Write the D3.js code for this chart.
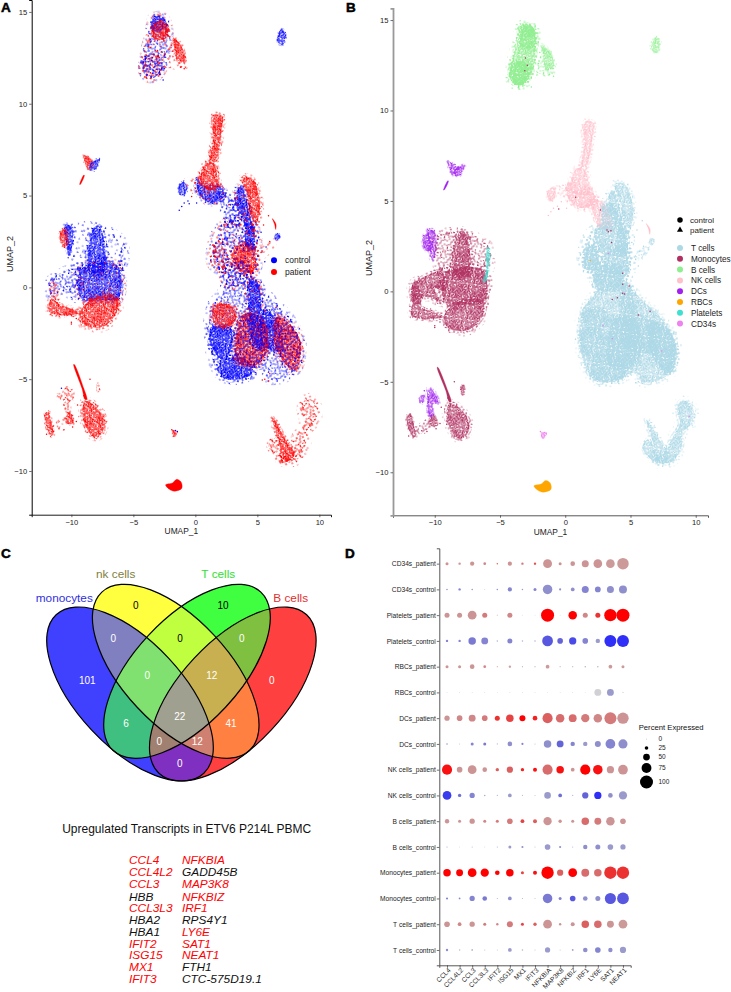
<!DOCTYPE html>
<html><head><meta charset="utf-8">
<script src="https://cdn.jsdelivr.net/npm/d3@7"></script>
<style>
html,body{margin:0;padding:0;background:#fff}
svg{display:block;font-family:"Liberation Sans",Arial,sans-serif}
</style></head><body><div id="c"></div>
<script>
// ---------- UMAP cell clouds: outlines, in UMAP units ----------
const bUpper=[[-3.4,14.7],[-2.6,14.7],[-2.2,14.1],[-2.3,13.2],[-2.6,12],[-3.4,11.4],[-4.1,11.6],[-4.15,12.4],[-3.6,14]];
const bTop=[[-3.4,14.7],[-2.6,14.7],[-2.3,14.2],[-3.4,14]];
const bTopRed=[[-3.5,14.2],[-2.7,14.5],[-2.2,14],[-2.5,13.5],[-3.4,13.6]];
const bBottom=[[-4.15,12.5],[-3.2,12.7],[-2.7,12],[-3.4,11.4],[-4.1,11.6]];
const bRed=[[-1.8,13.6],[-1.4,13.4],[-.95,12.9],[-.9,12.3],[-1.5,12.4],[-1.7,13.1]];
const bLink=[[-2.2,13],[-1.8,13],[-1.5,12.4],[-.8,12],[-2.2,12.1]];
const bSmall=[[6.6,13.6],[6.9,14.05],[7.2,13.9],[7.2,13.4],[7,13.2],[6.6,13.4]];
const dcStarRed=[[-9,7.2],[-8.2,6.75],[-8.6,6.4],[-8.9,6.8]];
const dcStarBlue=[[-8.5,6.7],[-7.7,7],[-8.1,6.4],[-8.5,6.4]];
const dcTail=[[-9.33,5.6],[-9.28,5.6],[-8.95,6.1],[-9,6.12]];
const nkColumn=[[1.55,9.4],[2.2,9.3],[2.1,8.6],[1.9,7.5],[1.6,6.9],[1.2,6.9],[1.4,7.8]];
const nkBlob=[[.9,6.8],[1.5,6.75],[1.8,5.9],[1.9,5.5],[1,5.3],[.4,5.8]];
const nkBlue=[[.2,5.9],[.6,5.6],[2,5.5],[2.4,5],[1.2,4.6],[.2,5.2]];
const nkSmall=[[-1.3,5.6],[-.9,5.75],[-.7,5.3],[-1,5],[-1.3,5.1]];
const nkArc=[[-.8,5.85],[-.1,5.8],[.2,5.3],[-.2,5.2],[-.6,5.5]];
const nkBand=[[1.9,5.2],[3,4.8],[3.6,3.4],[2.7,3.5],[2.2,4.2]];
const tBand=[[2.9,4.8],[3.4,4.9],[4.2,4],[4.6,2.2],[3,2],[2.2,3.4],[2.7,3.6]];
const tRedColumn=[[3.8,5.95],[4.6,5.9],[5.1,5],[5.2,4.1],[4.9,3.5],[4.4,4],[4.2,5]];
const tBlueColumn=[[3.4,5.4],[3.8,5.4],[4.4,3.9],[4.75,3],[4.7,2],[4.1,2.2],[4,3.4],[3.5,4.2]];
const tConnect=[[2.2,3.4],[4.6,3.4],[5,2],[4.8,.9],[2.4,.9],[1.4,1.2],[1.4,2.4]];
const tBlobA=[[1.5,2.2],[2.1,2.6],[2.5,2.2],[2.4,1.3],[1.6,1.2]];
const tBlobB=[[2.9,1.7],[3.8,2.4],[4.7,2.1],[4.7,.9],[3.5,.9]];
const tNeck=[[2.3,1.3],[4.1,1.3],[4.4,.4],[2.5,0]];
const tArc=[[6.2,3.75],[6.5,3.45],[6.48,3.15],[6.38,3.45]];
const tDot=[[6.4,2.7],[6.6,2.95],[6.85,2.8],[6.6,2.55]];
const tTail=[[6.4,2.6],[6.5,2.5],[5.4,1.6],[5.1,1.8]];
const tMass=[[2.34,1.18],[2.47,.07],[1.32,-1.03],[1.15,-3.06],[1.96,-4.7],[3.6,-5],[5.4,-4.5],[5.9,-5],[7.7,-4.7],[8.45,-3.06],[7.7,-1.77],[5.9,-.48],[4.63,.44],[4.12,1.18]];
const tRedLeft=[[1.5,-1],[3,-1],[3.3,-1.7],[2.4,-2.2],[1.5,-1.9]];
const tBlueLeft=[[1.2,-2.2],[2.8,-2.2],[3,-3],[2.3,-4],[1.3,-3.2]];
const tBlueBottom=[[2,-4.1],[3.2,-3.8],[4.6,-4.2],[4.4,-4.8],[2.4,-5],[2,-4.7]];
const tRedCenter=[[3.8,-1.5],[5,-1.5],[5.8,-2.3],[5.6,-3.8],[4.6,-4.3],[3.3,-4],[3.2,-3.2]];
const tBlueCol=[[4.3,.4],[4.9,.4],[5.4,-2],[5.3,-3.4],[4.6,-3],[4.3,-1]];
const tBlueRight=[[5.5,-1.2],[6.6,-1.8],[7,-3.4],[5.8,-3.3]];
const tRedRight=[[6.6,-1.6],[7.6,-2],[8.5,-3],[8.1,-4.5],[7.3,-4.2],[6.4,-3]];
const tArcBand=[[8.7,-6.2],[9.2,-6.05],[9.8,-6.5],[9.7,-7.3],[9,-7.8],[8.9,-8.6],[8.2,-9.4],[7.2,-9.5],[6.8,-9.3],[7.6,-8.9],[8.2,-8.1],[8.8,-7.3],[8.6,-6.7]];
const tDiagonal=[[6.2,-7.1],[6.5,-7.3],[7.2,-8.2],[8,-9.1],[7.3,-9.5],[6.7,-8.3]];
const tLowBlob=[[5.9,-8.6],[6.3,-8.2],[7,-9],[7.1,-9.5],[6.3,-9.1]];
const dcLobeRed=[[-10.9,3],[-10.5,3.2],[-10.25,2.5],[-10.5,2.2],[-10.8,2.4]];
const dcLobeBlue=[[-10.5,3.4],[-10,3.3],[-9.9,2.4],[-10.2,1.7],[-10.4,2.4]];
const monoOpen=[[-10,3.1],[-8,3.3],[-7.5,3.2],[-5.9,2.5],[-5.9,1.2],[-6.3,1],[-9.5,1.2],[-10,2.2]];
const monoColumn=[[-8.1,3.3],[-7.7,3.3],[-7.4,.9],[-8.6,.9]];
const monoBlueRight=[[-9.2,1],[-6.3,1.2],[-6.2,-.6],[-7.5,-.7],[-9.2,-.6]];
const monoBlueLeft=[[-11.7,.4],[-11.2,.65],[-9.5,1.1],[-9.3,.1],[-10.1,.2],[-9.5,-.6],[-10.5,-.3],[-11.7,-.4]];
const monoRedRight=[[-9.3,-1.4],[-8.5,-.7],[-7,-.4],[-6.3,-.6],[-6.3,-1.3],[-7.2,-2.05],[-8,-2.2],[-9,-2]];
const monoRedLeft=[[-11.8,-1.3],[-11.6,-.6],[-11,-.9],[-10.3,-1.1],[-9.3,-1.4],[-10,-1.5],[-11.2,-1.5]];
const monoRedSpur=[[-11.6,.3],[-11.2,.2],[-11.1,-.7],[-11.6,-.6]];
const monoThin=[[-9.82,-4.2],[-9.76,-4.2],[-9,-5.5],[-8.75,-6.1],[-8.9,-6.1],[-9.15,-5.5]];
const monoLow=[[-8.9,-6.2],[-8.2,-6.4],[-7.5,-7],[-7.35,-7.6],[-7.8,-8.1],[-8.3,-8.1],[-8.8,-7.6],[-9.1,-7]];
const monoStrip=[[-12.1,-6.85],[-11.85,-6.8],[-11.6,-7.4],[-11.45,-8],[-11.6,-8.1],[-12.1,-7.4]];
const monoPatch=[[-10.3,-6.85],[-10,-6.9],[-9.8,-7.4],[-10.4,-7.4]];
const monoSpeck=[[-7.95,-5.2],[-7.75,-5.2],[-7.75,-5.7],[-7.95,-5.7]];
const monoLink=[[-11.4,-7.6],[-10.4,-7.1],[-10.3,-7.4],[-11.2,-7.9]];
const dcLowA=[[-11.1,-5.8],[-10.8,-5.75],[-10.95,-6.2],[-11.2,-6.1]];
const dcLowB=[[-10.5,-5.4],[-10.25,-5.4],[-9.7,-6.2],[-10.1,-6.1],[-10.2,-6.9],[-10.4,-6.9]];
const rbcBlob=[[-2.4,-10.75],[-1.85,-10.65],[-1.5,-10.45],[-1.15,-10.6],[-1.1,-10.95],[-1.7,-11.1],[-2.1,-11]];
const cd34Blob=[[-1.85,-7.8],[-1.45,-7.85],[-1.6,-8.1],[-1.75,-8.15]];
const plateletStrip=[[-5.98,2.4],[-5.85,2.4],[-5.88,1.2],[-6.05,.6],[-6.3,.5],[-6.05,1.2]];

// outline, cell type, condition, stipple density: drawn in this order
const clouds=[
 [bUpper,'B cells','control','mid'],[bUpper,'B cells','patient','sparse'],[bTop,'B cells','control','dense'],[bTopRed,'B cells','patient','dense'],
 [bBottom,'B cells','patient','mid'],[bBottom,'B cells','control','mid'],[bRed,'B cells','patient','dense'],[bLink,'B cells','patient','sparse'],[bSmall,'B cells','control','dense'],
 [dcStarRed,'DCs','patient','dense'],[dcStarBlue,'DCs','control','dense'],[dcTail,'DCs','patient','solid'],
 [nkColumn,'NK cells','patient','dense'],[nkBlue,'NK cells','control','dense'],[nkBlue,'NK cells','patient','sparse'],[nkBlob,'NK cells','patient','dense'],[nkSmall,'NK cells','control','dense'],[nkArc,'NK cells','patient','sparse'],[nkBand,'NK cells','control','mid'],
 [tBand,'T cells','control','mid'],[tRedColumn,'T cells','patient','dense'],[tBlueColumn,'T cells','control','dense'],[tBlueColumn,'T cells','patient','sparse'],
 [tConnect,'T cells','control','sparse'],[tConnect,'T cells','patient','sparse'],
 [tBlobA,'T cells','control','mid'],[tBlobA,'T cells','patient','mid'],[tNeck,'T cells','control','mid'],[tNeck,'T cells','patient','sparse'],[tBlobB,'T cells','patient','dense'],[tBlobB,'T cells','control','sparse'],
 [tArc,'NK cells','patient','solid'],[tDot,'T cells','control','dense'],[tTail,'T cells','patient','sparse'],
 [tMass,'T cells','control','mid'],[tBlueLeft,'T cells','control','dense'],[tBlueBottom,'T cells','control','dense'],[tBlueRight,'T cells','control','dense'],
 [tRedLeft,'T cells','patient','dense'],[tRedCenter,'T cells','patient','dense'],[tRedRight,'T cells','patient','dense'],[tBlueCol,'T cells','control','dense'],[tRedCenter,'T cells','control','mid'],[tRedRight,'T cells','control','mid'],
 [tBlueCol,'T cells','patient','sparse'],
 [tArcBand,'T cells','patient','mid'],[tDiagonal,'T cells','patient','dense'],[tLowBlob,'T cells','patient','mid'],
 [dcLobeBlue,'DCs','control','dense'],[dcLobeRed,'DCs','patient','dense'],
 [monoOpen,'Monocytes','control','sparse'],[monoColumn,'Monocytes','control','dense'],[monoBlueRight,'Monocytes','control','dense'],[monoBlueRight,'Monocytes','patient','sparse'],[monoBlueLeft,'Monocytes','control','mid'],
 [monoRedRight,'Monocytes','patient','dense'],[monoRedLeft,'Monocytes','patient','dense'],[monoRedSpur,'Monocytes','patient','mid'],
 [monoThin,'Monocytes','patient','solid'],[monoLow,'Monocytes','patient','dense'],[monoStrip,'Monocytes','patient','dense'],[monoPatch,'Monocytes','patient','dense'],[monoSpeck,'Monocytes','patient','mid'],[monoLink,'Monocytes','patient','sparse'],
 [dcLowA,'DCs','patient','mid'],[dcLowB,'DCs','patient','mid'],
 [rbcBlob,'RBCs','patient','solid'],[cd34Blob,'CD34s','patient','dense'],[plateletStrip,'Platelets','control','mid']
];
// single cells off the main clouds, read one by one: x, y, cell type, condition
const strayCells=[
 [-1.1,4.4,'NK cells','control'],[-.6,4.7,'NK cells','control'],[-.3,4.95,'NK cells','patient'],[.1,4.6,'NK cells','control'],[-.9,4.6,'NK cells','control'],
 [5.9,3.9,'T cells','patient'],[5.5,3.4,'T cells','patient'],[5.3,1.9,'T cells','patient'],[5.7,2.2,'T cells','control'],[6,2.5,'T cells','patient'],[5.1,2.7,'T cells','control'],[5.3,3,'T cells','control'],[5.6,1.4,'T cells','control'],[5,1.2,'T cells','patient'],
 [-2.6,11.3,'B cells','control'],[-1.2,12,'B cells','patient'],[-.9,11.9,'B cells','patient'],[-2.2,13.7,'B cells','patient'],[-1.95,13.2,'B cells','patient'],[-2.05,12.6,'B cells','patient'],
 [-3.05,12.9,'Monocytes','patient'],[-3.1,12.2,'Monocytes','control'],[-2.9,12.5,'Monocytes','patient'],[.8,5.2,'Monocytes','patient'],[2.7,4.5,'Monocytes','patient'],[3.2,3.4,'Monocytes','patient'],[3.3,3.3,'Monocytes','control'],[3.5,3.35,'Monocytes','patient'],[3.55,2.7,'Monocytes','control'],
 [4.4,1,'Monocytes','patient'],[4.4,.4,'Monocytes','patient'],[4.4,-.1,'Monocytes','control'],[4.55,-.15,'Monocytes','patient'],[3.6,-.45,'Monocytes','control'],[4,-.35,'Monocytes','patient'],[4.9,.3,'Monocytes','patient'],[5.6,-1.3,'Monocytes','patient'],[6.5,-1.1,'Monocytes','patient'],[2.9,-1.9,'CD34s','patient'],[3.6,-2.6,'CD34s','patient'],[7.4,-3.3,'CD34s','patient'],[3.3,2.1,'CD34s','patient'],[1.9,1.7,'RBCs','patient'],
 [-.5,4.55,'Monocytes','control'],[-1.3,4.2,'NK cells','control'],[9.5,-6.9,'CD34s','patient'],
 [-10.8,-5.5,'DCs','control'],[-12,-8,'Monocytes','patient'],[-9.9,-7.6,'Monocytes','patient'],[-10.6,-7.75,'Monocytes','patient'],[-11,-7.7,'Monocytes','patient'],[-9.6,-7.3,'Monocytes','patient'],[-8.5,-5,'Monocytes','patient'],[-9.5,-6.4,'Monocytes','patient'],[-9,-5.9,'Monocytes','patient'],
 [-10,-2,'Monocytes','patient'],[-10,-1.9,'Monocytes','patient'],[-9.6,-1.7,'Monocytes','patient'],[5.6,-5,'T cells','patient'],[5.9,-5.1,'T cells','patient'],[5.4,-5.05,'T cells','patient'],[6,-4.7,'T cells','patient'],
 [-1.6,-7.8,'CD34s','control'],[-1.45,-7.85,'CD34s','control'],[-1.9,-7.75,'CD34s','patient']
];
const cellTypes=['T cells','Monocytes','B cells','NK cells','DCs','RBCs','Platelets','CD34s'];
const cellTypeColors=['#add8e6','#b03060','#90ee90','#ffc0cb','#a020f0','#ffa500','#40e0d0','#ee82ee'];
const conditions=['control','patient'];
const conditionColors=['#0000ff','#ff0000'];
const umapTicksX=[-10,-5,0,5,10];
const umapTicksY=[-10,-5,0,5,10,15];

// ---------- Venn ----------
const vennSets=['monocytes','nk cells','T cells','B cells'];
const vennSetColors=['#3030e0','#808040','#30e030','#e03030'];
const vennRegions=['B','Y','G','R','BY','BG','BR','YG','YR','GR','BYG','BYR','BGR','YGR','BYGR'];
const vennRegionColors=['#4040ff','#ffff40','#40ff40','#ff4040','#8080c0','#40c080','#8030c0','#c0ff40','#ff8040','#80c040','#80e070','#d08070','#a08070','#c8b050','#a0a090'];
const vennCounts=[101,0,10,0,0,6,0,0,41,0,0,12,0,12,22];

const transcriptsLeft=['CCL4','CCL4L2','CCL3','HBB','CCL3L3','HBA2','HBA1','IFIT2','ISG15','MX1','IFIT3'];
const transcriptsRight=['NFKBIA','GADD45B','MAP3K8','NFKBIZ','IRF1','RPS4Y1','LY6E','SAT1','NEAT1','FTH1','CTC-575D19.1'];
const blackTranscripts=['HBB','HBA2','HBA1','GADD45B','RPS4Y1','FTH1','CTC-575D19.1'];

// ---------- Dot plot ----------
const dotGenes=['CCL4','CCL4L2','CCL3','CCL3L3','IFIT2','ISG15','MX1','IFIT3','NFKBIA','MAP3K8','NFKBIZ','IRF1','LY6E','SAT1','NEAT1'];
const dotRows=['CD34s_patient','CD34s_control','Platelets_patient','Platelets_control','RBCs_patient','RBCs_control','DCs_patient','DCs_control','NK cells_patient','NK cells_control','B cells_patient','B cells_control','Monocytes_patient','Monocytes_control','T cells_patient','T cells_control'];
const percentExpressed=[
[20,15,30,18,8,30,15,15,67,20,33,52,65,65,88],
[8,15,8,3,8,30,8,20,72,13,26,52,42,52,60],
[36,36,66,36,5,36,3,3,100,3,64,36,36,95,100],
[15,15,56,51,8,36,8,8,82,41,54,41,31,92,92],
[20,20,33,18,5,15,5,5,26,5,5,8,8,26,20],
[3,3,3,3,2,3,3,3,2,3,3,2,51,51,5],
[38,41,51,41,36,56,44,33,77,64,59,62,64,92,87],
[8,4,20,20,5,33,13,4,56,51,31,31,44,74,69],
[77,41,66,33,23,46,23,28,77,56,26,77,72,54,74],
[66,23,38,8,5,26,5,4,49,26,5,46,54,33,62],
[31,20,38,20,20,41,26,28,62,23,20,56,51,64,41],
[5,3,5,3,5,20,13,4,41,13,5,31,36,41,38],
[56,51,66,62,33,56,20,28,95,46,66,59,56,95,95],
[13,10,38,33,5,26,5,4,72,20,41,33,36,85,90],
[41,26,38,20,15,44,20,23,66,15,28,56,56,51,66],
[15,8,10,5,4,26,8,4,38,4,10,33,41,31,46]];
const avgExpression=[
[.5,.5,.5,.55,.7,.5,.6,.75,.5,.5,.5,.5,.5,.45,.45],
[.55,.6,.55,.3,.55,.6,.5,.6,.55,.55,.55,.6,.6,.55,.55],
[.5,.5,.5,.6,.1,.55,.1,.1,1,.1,1,.55,.85,1,1],
[.6,.6,.65,.6,.3,.6,.3,.3,.8,.75,.85,.6,.5,.95,.95],
[.5,.5,.5,.55,.3,.4,.3,.3,.45,.3,.3,.3,.3,.45,.45],
[.1,.1,.1,.1,.1,.1,.1,.1,.1,.1,.1,.05,.02,.5,.1],
[.5,.55,.55,.6,.85,.8,1,.9,.7,.65,.65,.6,.55,.6,.5],
[.55,.2,.6,.65,.3,.55,.6,.3,.55,.75,.6,.5,.55,.6,.55],
[.95,.5,.5,.5,.7,.7,.9,.95,.65,.95,.5,1,.95,.5,.5],
[.9,.7,.6,.4,.3,.5,.2,.2,.5,.7,.3,.75,.95,.55,.5],
[.5,.5,.5,.55,.6,.6,.8,.7,.5,.5,.5,.65,.6,.5,.5],
[.45,.1,.3,.1,.3,.5,.55,.2,.5,.55,.3,.55,.55,.5,.5],
[1,1,1,1,1,1,.8,.95,1,.7,1,.65,.65,.85,.85],
[.6,.6,.6,.65,.3,.55,.3,.2,.65,.6,.8,.55,.55,.8,.8],
[.5,.55,.5,.6,.55,.6,.8,.7,.5,.5,.5,.7,.65,.5,.45],
[.55,.2,.3,.2,.2,.5,.3,.2,.5,.2,.5,.55,.6,.55,.5]];
const sizeLegendValues=[0,25,50,75,100];

// ---------- style / layout ----------
// stipple texture: one hand-placed tile, mirrored into a larger one; lighter densities use its first dots
const stippleTile=[[1,1],[6,2],[3,5],[9,7],[8,1],[1,7],[5,8],[10,4],[4,2],[7,5],[2,3],[9,2.5],[6,7],[3,8],[.5,4.5],
 [5,.5],[8,8.5],[2.5,.5],[5.5,4],[10.5,.5],[7.5,3],[4,6.5],[1.5,5.5],[9,5.2],[7.3,7],[3.5,3.5],[.3,2.4],[6.4,.8],[10.2,8],[2,8.5]];
const stippleCounts={sparse:5,mid:13,dense:30};
const stippleRadius={sparse:.6,mid:.68,dense:.86};
const lighter={dense:'mid',mid:'sparse',sparse:'sparse'};

const W=731,H=992;
const svg=d3.select('#c').append('svg').attr('width',W).attr('height',H).attr('viewBox',`0 0 ${W} ${H}`);
const defs=svg.append('defs');
const patternsMade=new Set();
function pattern(color,density,angle){
  if(density==='solid') return color;
  const id=`st-${color.replace('#','')}-${density}`;
  if(!patternsMade.has(id)){
    patternsMade.add(id);
    const p=defs.append('pattern').attr('id',id).attr('patternUnits','userSpaceOnUse').attr('width',22).attr('height',18)
      .attr('patternTransform',`rotate(${angle})`);
    const base=stippleTile.slice(0,stippleCounts[density]);
    const all=[...base,...base.map(d=>[22-d[1]*1.2,d[0]*.8]),...base.map(d=>[d[1]*1.2,18-d[0]*.8]),...base.map(d=>[22-d[0],18-d[1]])];
    p.selectAll('circle').data(all).join('circle')
      .attr('cx',d=>d[0]).attr('cy',d=>d[1]).attr('r',stippleRadius[density]).attr('fill',color);
  }
  return `url(#${id})`;
}
function styleAxis(g,color,width,fs){
  g.selectAll('path.domain').attr('stroke',color).attr('stroke-width',width);
  g.selectAll('.tick line').attr('stroke','#333').attr('stroke-width',.7);
  g.selectAll('.tick text').attr('fill','#222').attr('font-size',fs).attr('font-family','"Liberation Sans",Arial,sans-serif');
}
function umapPanel(opt){
  const x=d3.scaleLinear().domain([-13.2,10.94]).range(opt.xr);
  const y=d3.scaleLinear().domain([-12.38,15.65]).range(opt.yr);
  const line=d3.line().x(d=>x(d[0])).y(d=>y(d[1])).curve(d3.curveCatmullRomClosed.alpha(.5));
  // edge scatter grows with the size of a cloud
  const sizeOf=d=>Math.sqrt(Math.abs(d3.polygonArea(d[0].map(p=>[x(p[0]),y(p[1])]))));
  const g=svg.append('g');
  g.selectAll('path.outer').data(clouds.filter(d=>d[3]!=='solid')).join('path').attr('class','outer')
    .attr('d',d=>line(d[0])).attr('fill','none')
    .attr('stroke',d=>opt.outer(d)).attr('stroke-linejoin','round')
    .attr('stroke-width',d=>Math.min(11,sizeOf(d)/2.5));
  g.selectAll('path.cloud').data(clouds).join('path').attr('class','cloud')
    .attr('d',d=>line(d[0]))
    .attr('fill',d=>opt.fill(d))
    .attr('stroke',d=>d[3]==='solid'?opt.fill(d):opt.halo(d))
    .attr('stroke-width',d=>d[3]==='solid'?.3:Math.min(5,sizeOf(d)/4))
    .attr('stroke-linejoin','round');
  g.selectAll('circle.stray').data(strayCells).join('circle').attr('class','stray')
    .attr('cx',d=>x(d[0])).attr('cy',d=>y(d[1])).attr('r',.75).attr('fill',opt.dot);
  const ax=g.append('g').attr('transform',`translate(0,${opt.yr[0]})`).call(d3.axisBottom(x).tickValues(umapTicksX).tickSize(2.5).tickPadding(2).tickFormat(d=>d<0?'\u2212'+(-d):d));
  styleAxis(ax,opt.axisBottom,.9,7.6);
  const ay=g.append('g').attr('transform',`translate(${opt.xr[0]},0)`).call(d3.axisLeft(y).tickValues(umapTicksY).tickSize(2.5).tickPadding(2).tickFormat(d=>d<0?'\u2212'+(-d):d));
  styleAxis(ay,opt.axisLeft,opt.axisLeftW,7.6);
  g.append('text').attr('x',(opt.xr[0]+opt.xr[1])/2).attr('y',opt.yr[0]+19.5).attr('text-anchor','middle').attr('font-size',8.4).attr('fill','#222').text('UMAP_1');
  g.append('text').attr('transform',`translate(${opt.yLabelX},${opt.yLabel}) rotate(-90)`).attr('text-anchor','middle').attr('font-size',9).attr('fill','#222').text('UMAP_2');
}
const condColor=c=>conditionColors[conditions.indexOf(c)];
const typeColor=t=>cellTypeColors[cellTypes.indexOf(t)];
const condAngle=c=>c==='patient'?-29:17;
const bDensity=d=>d==='solid'?'solid':d==='sparse'?'mid':'dense';

umapPanel({xr:[31.7,331],yr:[514.7,0],yLabel:254,yLabelX:13,axisLeft:'#000',axisLeftW:1,axisBottom:'#000',
  fill:d=>pattern(condColor(d[2]),d[3],condAngle(d[2])),
  halo:d=>pattern(condColor(d[2]),lighter[d[3]],condAngle(d[2])),
  outer:d=>pattern(condColor(d[2]),'sparse',condAngle(d[2])),
  dot:d=>condColor(d[3])});
umapPanel({xr:[393,708],yr:[515.3,8.3],yLabel:258,yLabelX:372,axisLeft:'#999',axisLeftW:1.8,axisBottom:'#444',
  fill:d=>pattern(typeColor(d[1]),bDensity(d[3]),11),
  halo:d=>pattern(typeColor(d[1]),lighter[bDensity(d[3])],11),
  outer:d=>pattern(typeColor(d[1]),'sparse',11),
  dot:d=>typeColor(d[2])});

// panel letters
[['A',1,12],['B',346,12],['C',1,558],['D',345,558]].forEach(([t,x,y])=>
  svg.append('text').attr('x',x).attr('y',y).attr('font-size',13.5).attr('font-weight',700).attr('stroke','#000').attr('stroke-width',.5).text(t));

// legends
const lgA=svg.append('g');
lgA.selectAll('circle').data(conditions).join('circle').attr('cx',274).attr('cy',(d,i)=>260.3+i*11.7).attr('r',3).attr('fill',condColor);
lgA.selectAll('text').data(conditions).join('text').attr('x',285).attr('y',(d,i)=>263.2+i*11.7).attr('font-size',8.5).attr('fill','#222').text(d=>d);
const lgB=svg.append('g');
lgB.selectAll('path').data(conditions).join('path').attr('transform',(d,i)=>`translate(680,${220+i*10})`)
  .attr('d',(d,i)=>d3.symbol().type(i?d3.symbolTriangle:d3.symbolCircle).size(i?16:24)());
lgB.selectAll('text.c').data(conditions).join('text').attr('class','c').attr('x',690).attr('y',(d,i)=>222.8+i*10).attr('font-size',8).attr('fill','#222').text(d=>d);
lgB.selectAll('circle.t').data(cellTypes).join('circle').attr('class','t').attr('cx',680).attr('cy',(d,i)=>248+i*10.8).attr('r',3).attr('fill',typeColor);
lgB.selectAll('text.t').data(cellTypes).join('text').attr('class','t').attr('x',691).attr('y',(d,i)=>251+i*10.8).attr('font-size',8.2).attr('fill','#222').text(d=>d);

// Venn: painted from single sets up to the full intersection through nested clips
const vennShape={a:108.3,b:52.7,angle:47};
const vennCentres={B:[130,694,1],Y:[175.7,671.3,1],G:[187,671.3,-1],R:[232.8,694,-1]};
const ell=(sel,k)=>{const c=vennCentres[k];return sel.attr('rx',vennShape.a).attr('ry',vennShape.b)
  .attr('transform',`translate(${c[0]},${c[1]}) rotate(${c[2]*vennShape.angle})`);};
Object.keys(vennCentres).forEach(k=>ell(defs.append('clipPath').attr('id','v'+k).append('ellipse'),k));
const vg=svg.append('g');
vennRegions.forEach((r,i)=>{
  let g=vg;
  r.split('').forEach(k=>{g=g.append('g').attr('clip-path',`url(#v${k})`);});
  g.append('rect').attr('x',0).attr('y',540).attr('width',360).attr('height',260).attr('fill',vennRegionColors[i]);
});
Object.keys(vennCentres).forEach(k=>ell(vg.append('ellipse'),k).attr('fill','none').attr('stroke','#000').attr('stroke-width',1.2));
const vennLabelXY=[[87.3,680.7],[135.7,605.7],[223,605.7],[271.7,680.7],[113.3,638.7],[126,723.3],[179.7,763.7],[180,638.7],[231,723.3],[241.7,638.7],[147.3,675],[197.3,741.3],[159.3,741.3],[211.7,675],[179.7,716]];
const darkLabels=new Set(['Y','G','YG']);
vg.selectAll('text.n').data(vennCounts).join('text').attr('class','n')
  .attr('x',(d,i)=>vennLabelXY[i][0]).attr('y',(d,i)=>vennLabelXY[i][1]+3.6)
  .attr('text-anchor','middle').attr('font-size',10).attr('fill',(d,i)=>darkLabels.has(vennRegions[i])?'#000':'#fff').text(d=>d);
const vennNameXY=[[64.3,601.5],[115.7,577.5],[218.3,577.5],[290.7,601.5]];
vg.selectAll('text.s').data(vennSets).join('text').attr('class','s')
  .attr('x',(d,i)=>vennNameXY[i][0]).attr('y',(d,i)=>vennNameXY[i][1]).attr('text-anchor','middle').attr('font-size',11.8).attr('fill',(d,i)=>vennSetColors[i]).text(d=>d);

// transcripts: tight rows as in the reference, glyphs widened to the reference's text width
svg.append('text').attr('x',186.7).attr('y',833.2).attr('text-anchor','middle').attr('font-size',12).attr('fill','#111').text('Upregulated Transcripts in ETV6 P214L PBMC');
const rowY=[864,875.7,887.7,901,912.3,924.3,936,947.7,959,971,982.7];
[[transcriptsLeft,129],[transcriptsRight,182]].forEach(([list,x])=>{
  svg.append('g').selectAll('text').data(list).join('text').attr('x',x).attr('y',(d,i)=>rowY[i])
    .attr('font-size',10.2).attr('font-style','italic').attr('fill',d=>blackTranscripts.includes(d)?'#111':'#ff0000').text(d=>d)
    .each(function(){const w=this.getComputedTextLength();d3.select(this).attr('textLength',w*1.165).attr('lengthAdjust','spacingAndGlyphs');});
});

// dot plot
const dx=d3.scalePoint().domain(dotGenes).range([439.3,630.7]).padding(.615);
const dy=d3.scalePoint().domain(dotRows).range([548.3,965.3]).padding(.595);
const radius=d3.scaleLinear().domain([0,100]).range([.25,6.5]);
const ramp=(c2,c3,c4)=>d3.scaleLinear().domain([0,.5,.75,1]).range(['#d3d3d3',c2,c3,c4]);
const redRamp=ramp('#cc9494','#e05252','#ff0000');
const blueRamp=ramp('#9a9acc','#6464d8','#2222ff');
const dp=svg.append('g');
dotRows.forEach((row,i)=>{
  const colorOf=row.endsWith('patient')?redRamp:blueRamp;
  dp.selectAll(null).data(dotGenes).join('circle').attr('cx',g=>dx(g)).attr('cy',dy(row))
    .attr('r',(g,j)=>radius(percentExpressed[i][j])).attr('fill',(g,j)=>colorOf(avgExpression[i][j]));
});
const dax=dp.append('g').attr('transform','translate(0,965.3)').call(d3.axisBottom(dx).tickSize(2.5).tickPadding(1.5));
styleAxis(dax,'#444',.9,6.65);
dax.selectAll('.tick text').attr('text-anchor','end').attr('dx','-.2em').attr('dy','.35em').attr('transform','rotate(-45)');
const day=dp.append('g').attr('transform','translate(439.3,0)').call(d3.axisLeft(dy).tickSize(2.5).tickPadding(1));
styleAxis(day,'#444',.9,6.65);
svg.append('text').attr('x',638.7).attr('y',729.5).attr('font-size',7.7).attr('fill','#111').text('Percent Expressed');
const legendY=[739,748,757,768,782];
const lgD=svg.append('g');
lgD.selectAll('circle').data(sizeLegendValues).join('circle').attr('cx',646.5).attr('cy',(d,i)=>legendY[i]).attr('r',d=>radius(d)).attr('fill','#000');
lgD.selectAll('text').data(sizeLegendValues).join('text').attr('x',658.5).attr('y',(d,i)=>legendY[i]+2.3).attr('font-size',6.5).attr('fill','#222').text(d=>d);
</script></body></html>
